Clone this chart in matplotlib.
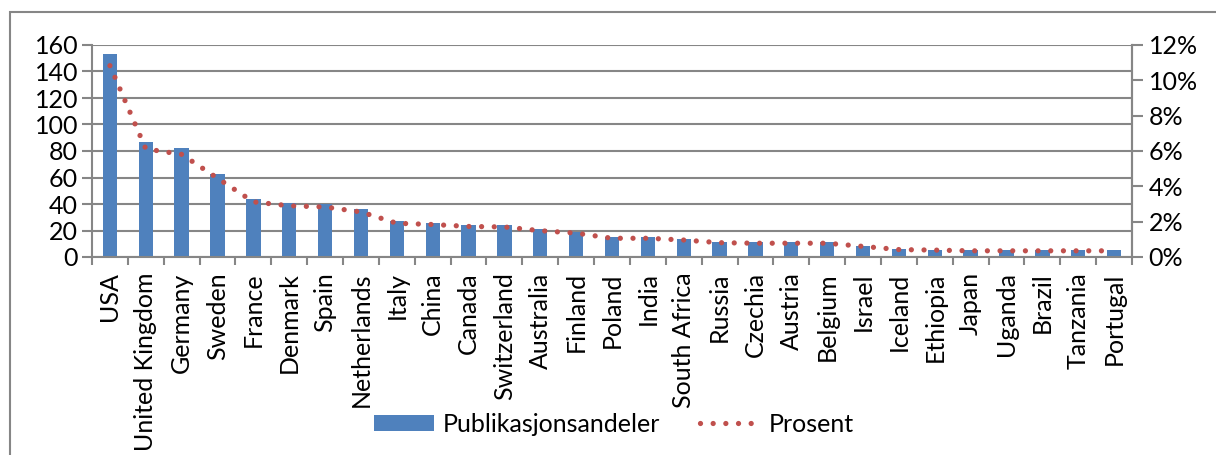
import matplotlib
matplotlib.use("Agg")
import matplotlib.pyplot as plt
from matplotlib.patches import Rectangle
from matplotlib.ticker import FuncFormatter

plt.rcParams['font.family'] = ['Lato', 'DejaVu Sans']

countries = ["USA", "United Kingdom", "Germany", "Sweden", "France", "Denmark", "Spain",
             "Netherlands", "Italy", "China", "Canada", "Switzerland", "Australia", "Finland",
             "Poland", "India", "South Africa", "Russia", "Czechia", "Austria", "Belgium",
             "Israel", "Iceland", "Ethiopia", "Japan", "Uganda", "Brazil", "Tanzania", "Portugal"]
shares = [153, 86.5, 82, 63, 44, 41, 40, 36, 27, 26, 24.5, 24, 21, 19, 15, 15, 13.5,
          11.5, 11, 11, 11, 8.5, 6, 5.5, 5, 5, 5, 5, 5]
percent = [10.83, 6.12, 5.81, 4.46, 3.12, 2.90, 2.83, 2.55, 1.91, 1.84, 1.73, 1.70, 1.49,
           1.35, 1.06, 1.06, 0.96, 0.81, 0.78, 0.78, 0.78, 0.60, 0.42, 0.39, 0.35, 0.35,
           0.35, 0.35, 0.35]
left_ticks = [0, 20, 40, 60, 80, 100, 120, 140, 160]
right_ticks = [0, 2, 4, 6, 8, 10, 12]

BLUE = "#4F81BD"
RED = "#C0504D"
GRID = "#868686"
FS = 18

W, H = 1216, 455
fig = plt.figure(figsize=(W / 100, H / 100), dpi=100)
ax = fig.add_axes([92 / W, 1 - 257 / H, (1132 - 92) / W, (257 - 45) / H])
x = list(range(len(countries)))

ax.bar(x, shares, width=0.4, color=BLUE, zorder=2, label="Publikasjonsandeler")
ax.set_xlim(-0.5, len(countries) - 0.5)
ax.set_ylim(0, 160)
ax.set_yticks(left_ticks)
ax.set_xticks([i - 0.5 for i in range(len(countries) + 1)], minor=False)
ax.set_xticklabels([])
ax.set_xticks(x, minor=True)
ax.set_xticklabels(countries, minor=True, rotation=90, fontsize=FS, va="top", ha="center")
ax.tick_params(axis="x", which="minor", length=0, pad=11)
ax.tick_params(axis="x", which="major", length=6, width=1.5, color=GRID, direction="out")
ax.tick_params(axis="y", length=7, width=1.5, color=GRID, labelsize=FS, pad=3)
ax.grid(axis="y", color=GRID, linewidth=1.5, zorder=0)
ax.set_axisbelow(True)
ax.spines["top"].set_visible(False)
for s in ["left", "bottom", "right"]:
    ax.spines[s].set_color(GRID)
    ax.spines[s].set_linewidth(1.5)

ax2 = ax.twinx()
ax2.plot(x, percent, color=RED, linewidth=3.8, linestyle=(0, (0.001, 2.4)),
         dash_capstyle="round", label="Prosent", zorder=3)
ax2.set_ylim(0, 12)
ax2.set_yticks(right_ticks)
ax2.yaxis.set_major_formatter(FuncFormatter(lambda v, p: f"{v:.0f}%"))
ax2.tick_params(axis="y", length=8, width=1.5, color=GRID, labelsize=FS, pad=4)
for s in ["top", "left", "bottom"]:
    ax2.spines[s].set_visible(False)
ax2.spines["right"].set_color(GRID)
ax2.spines["right"].set_linewidth(1.5)

h1, l1 = ax.get_legend_handles_labels()
h2, l2 = ax2.get_legend_handles_labels()
fig.legend(h1 + h2, l1 + l2, loc="center", bbox_to_anchor=(614 / W, 1 - 424 / H),
           ncol=2, frameon=False, fontsize=FS, handlelength=2.4, handleheight=0.6,
           handletextpad=0.35, columnspacing=1.6)

fig.patches.append(Rectangle((10 / W, -0.2), 1.2, 1 - 12 / H + 0.2,
                             transform=fig.transFigure, fill=False,
                             edgecolor=GRID, linewidth=1.5))

fig.savefig("out.png", dpi=100)
